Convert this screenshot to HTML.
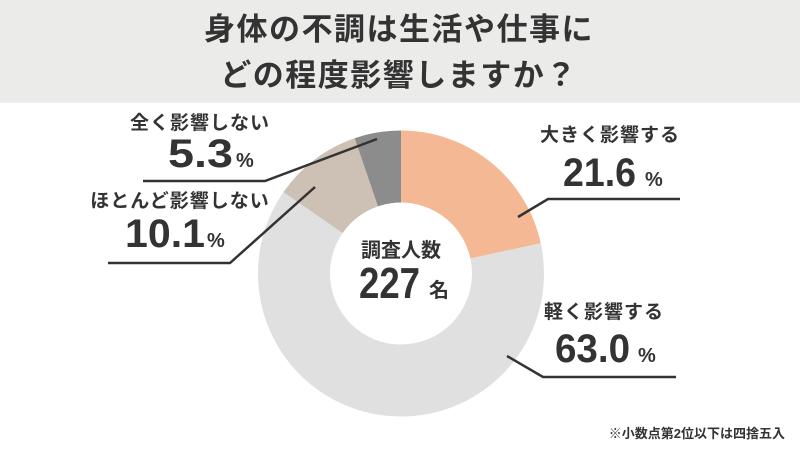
<!DOCTYPE html>
<html><head><meta charset="utf-8"><style>
body{margin:0;width:800px;height:450px;background:#fff;overflow:hidden;font-family:"Liberation Sans","Noto Sans CJK JP",sans-serif;color:#333}
</style></head><body>
<svg width="800" height="450" xmlns="http://www.w3.org/2000/svg" style="position:absolute;left:0;top:0">
<rect x="0" y="0" width="800" height="103" fill="#ebebea"/>
<g font-family="Liberation Sans, Noto Sans CJK JP, sans-serif" font-weight="bold" fill="#333" text-anchor="middle">
<text x="399" y="40" font-size="31" letter-spacing="1.5">身体の不調は生活や仕事に</text>
<text x="399" y="86" font-size="31" letter-spacing="1.5">どの程度影響しますか？</text>
</g>
<g transform="rotate(-90 401 273.5)" fill="none" stroke-width="72">
<circle cx="401" cy="273.5" r="107" stroke="#f4b994" stroke-dasharray="145.2 600" stroke-dashoffset="0"/>
<circle cx="401" cy="273.5" r="107" stroke="#e0e0e0" stroke-dasharray="423.6 700" stroke-dashoffset="-145.2"/>
<circle cx="401" cy="273.5" r="107" stroke="#cdc0b4" stroke-dasharray="67.9 700" stroke-dashoffset="-568.8"/>
<circle cx="401" cy="273.5" r="107" stroke="#8c8c8c" stroke-dasharray="35.6 700" stroke-dashoffset="-636.7"/>
</g>
<g stroke="#333" stroke-width="2.5" fill="none">
<polyline points="518,217 548,199 680,199"/>
<polyline points="507,356 543,377 676,377"/>
<polyline points="143,181 265,181 377,139"/>
<polyline points="108,263 230,263 315,187"/>
</g>
<g font-family="Liberation Sans, Noto Sans CJK JP, sans-serif" font-weight="bold" fill="#333">
<text x="610" y="141" font-size="19" text-anchor="middle" letter-spacing="1">大きく影響する</text>
<text x="563" y="186" font-size="40" textLength="73" lengthAdjust="spacingAndGlyphs">21.6</text><text x="645" y="186" font-size="20">%</text>
<text x="604" y="318" font-size="19" text-anchor="middle" letter-spacing="1">軽く影響する</text>
<text x="555" y="362" font-size="40" textLength="75" lengthAdjust="spacingAndGlyphs">63.0</text><text x="638" y="362" font-size="20">%</text>
<text x="200" y="129" font-size="19" text-anchor="middle" letter-spacing="1">全く影響しない</text>
<text x="168" y="167" font-size="40" textLength="65" lengthAdjust="spacingAndGlyphs">5.3</text><text x="236" y="167" font-size="20">%</text>
<text x="180" y="207" font-size="19" text-anchor="middle" letter-spacing="1">ほとんど影響しない</text>
<text x="125" y="247" font-size="40" textLength="80" lengthAdjust="spacingAndGlyphs">10.1</text><text x="207" y="247" font-size="20">%</text>
<text x="401" y="257" font-size="20" text-anchor="middle">調査人数</text>
<text x="359" y="298" font-size="44" textLength="61" lengthAdjust="spacingAndGlyphs">227</text><text x="429" y="297" font-size="20">名</text>
<text x="785" y="438" font-size="13" text-anchor="end">※小数点第2位以下は四捨五入</text>
</g>
</svg>
</body></html>
